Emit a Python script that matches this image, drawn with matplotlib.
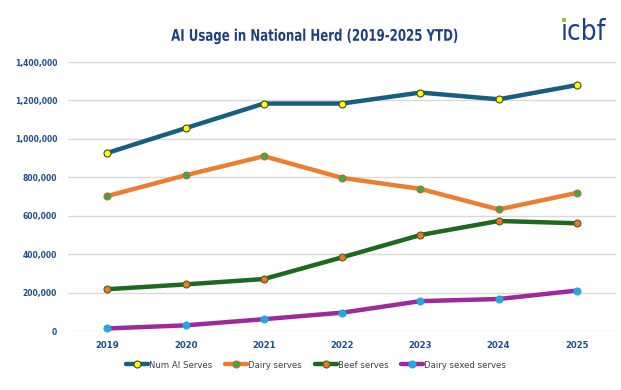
import matplotlib
matplotlib.use('Agg')
import matplotlib.pyplot as plt
from matplotlib.ticker import FuncFormatter
from matplotlib.patheffects import AbstractPathEffect
from matplotlib.transforms import Affine2D
from matplotlib.lines import Line2D

plt.rcParams['font.family'] = ['DejaVu Sans']
plt.rcParams['font.stretch'] = 'condensed'

years = ['2019', '2020', '2021', '2022', '2023', '2024', '2025']
num_ai = [927000, 1056000, 1184000, 1184000, 1241000, 1206000, 1280000]
dairy = [703000, 811000, 910000, 797000, 740000, 633000, 719000]
beef = [218000, 243000, 271000, 384000, 500000, 573000, 561000]
sexed = [14000, 30000, 62000, 96000, 156000, 167000, 211000]

blue_txt = '#1f4e8c'
W, H = 621, 390


class Squeeze(AbstractPathEffect):
    # narrow the glyphs horizontally around a centre x (pixels)
    def __init__(self, sx, cx):
        super().__init__()
        self.sx, self.cx = sx, cx

    def draw_path(self, renderer, gc, tpath, affine, rgbFace=None):
        t = affine + Affine2D().translate(-self.cx, 0).scale(self.sx, 1).translate(self.cx, 0)
        renderer.draw_path(gc, tpath, t, rgbFace)


fig = plt.figure(figsize=(W / 100, H / 100), dpi=100)
ax = fig.add_axes([0.11, 0.151, 0.882, 0.69])

x = range(len(years))
series = [
    ('Num AI Serves', num_ai, '#155f80', '#ffff00', '#4a4a20'),
    ('Dairy serves', dairy, '#ed7d31', '#2fae4c', '#c8692a'),
    ('Beef serves', beef, '#1b6a1d', '#e8782e', '#5a5a1a'),
    ('Dairy sexed serves', sexed, '#9c2a9c', '#22a7e0', '#22a7e0'),
]
for name, vals, lc, mfc, mec in series:
    ax.plot(x, vals, color=lc, lw=3.2, marker='o', ms=5, mfc=mfc, mec=mec,
            mew=0.8, label=name, clip_on=False, zorder=3, solid_capstyle='round')

ax.set_xlim(-0.5, 6.5)
ax.set_ylim(0, 1400000)
ax.set_yticks(range(0, 1400001, 200000))
ax.yaxis.set_major_formatter(FuncFormatter(lambda v, p: f'{int(v):,}'))
ax.set_xticks(list(x))
ax.set_xticklabels(years)
ax.grid(axis='y', color='#d9d9d9', lw=1)
ax.set_axisbelow(True)
for s in ax.spines.values():
    s.set_visible(False)
ax.tick_params(length=0, colors=blue_txt)
ax.tick_params(axis='y', labelsize=6, pad=8)
ax.tick_params(axis='x', labelsize=6.8, pad=7)
for lab in ax.get_xticklabels() + ax.get_yticklabels():
    lab.set_fontweight('bold')

tx = 0.508
fig.text(tx, 0.907, 'AI Usage in National Herd (2019-2025 YTD)', ha='center', va='center',
         fontsize=11.5, fontweight='bold', color='#1f3f82',
         path_effects=[Squeeze(0.82, tx * W)])

# logo: dotless i word plus a green dot
lx, ly = 0.902, 0.897
fig.text(lx, ly, '\u0131cbf', ha='left', va='baseline', fontsize=20, color='#1b3f8f')
fig.add_artist(Line2D([564.2 / W], [1 - 20 / H], marker='s', ms=2.6, mew=0,
                      color='#8cc63f', transform=fig.transFigure))

leg = fig.legend(loc='center', bbox_to_anchor=(0.509, 0.064), ncol=4, frameon=False,
                 fontsize=6.8, handlelength=2.3, handletextpad=0.1, columnspacing=1.4)
for t in leg.get_texts():
    t.set_color('#404040')

fig.savefig('out.png', dpi=100, facecolor='white')
